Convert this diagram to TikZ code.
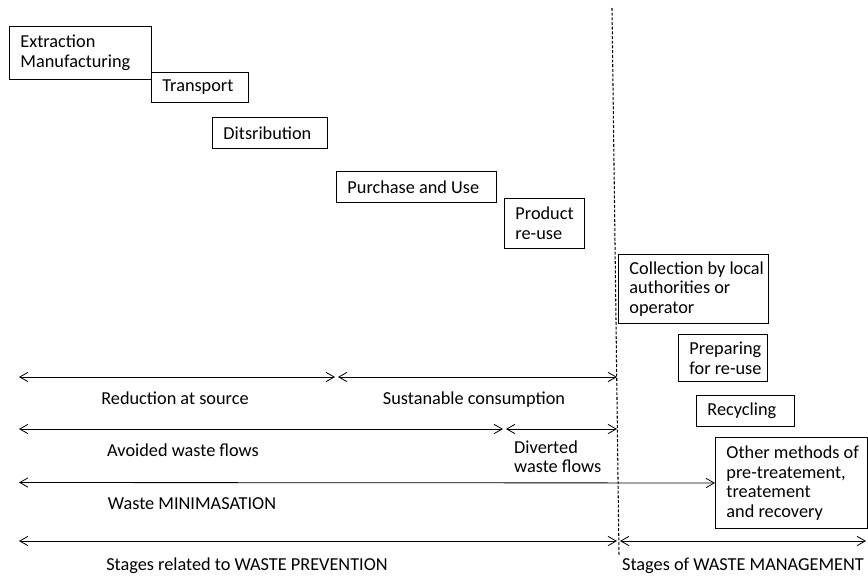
\documentclass[tikz,border=0pt]{standalone}
\usepackage{fontspec}
\setmainfont{Carlito}
\usetikzlibrary{arrows.meta}
\newcommand\oneline[1]{\mbox{\spaceskip=0pt\xspaceskip=0pt #1}}
\begin{document}
\begin{tikzpicture}[x=0.03cm, y=-0.03cm,
    >={Straight Barb[length=7pt,width=8pt]},
    stage/.style={draw, line width=0.8pt, anchor=north west, align=left,
        inner xsep=0.33cm, inner ysep=0pt, font=\fontsize{15.6}{16.8}\selectfont},
    span/.style={<->, line width=0.7pt},
    lbl/.style={anchor=base, inner sep=0pt, font=\fontsize{15.6}{16.8}\selectfont}]
    \useasboundingbox (0,0) rectangle (868,575);

    % life cycle stages
    \node[stage, minimum width=4.26cm, minimum height=1.59cm, text width=3.6cm] (extract) at (9,26) {Extraction\\Manufacturing};
    \node[stage, minimum width=2.91cm, minimum height=0.9cm, text width=2.25cm] (transport) at (151,72) {Transport};
    \node[stage, minimum width=3.45cm, minimum height=0.93cm, text width=2.79cm] (distrib) at (212,117) {Ditsribution};
    \node[stage, minimum width=4.8cm, minimum height=0.93cm, text width=4.14cm] (purchase) at (336,171) {\oneline{Purchase and Use}};
    \node[stage, minimum width=2.4cm, minimum height=1.5cm, text width=1.74cm] (reuse) at (504,198) {Product\\re-use};
    \node[stage, minimum width=4.5cm, minimum height=2.07cm, text width=3.84cm] (collect) at (618,254)
        {\oneline{Collection by local}\\\oneline{authorities or}\\operator};
    \node[stage, minimum width=2.67cm, minimum height=1.41cm, text width=2.01cm] (prepare) at (678,334)
        {Preparing\\\oneline{for re-use}};
    \node[stage, minimum width=2.94cm, minimum height=0.93cm, text width=2.28cm] (recycle) at (696,395) {Recycling};
    \node[stage, minimum width=4.56cm, minimum height=2.73cm, text width=3.9cm] (other) at (715,437)
        {\oneline{Other methods of}\\\oneline{pre-treatement,}\\treatement\\\oneline{and recovery}};

    % prevention / management border
    \coordinate (top) at (612,8);
    \coordinate (bottom) at (619,556);
    \draw[dash pattern=on 2.5pt off 1.5pt, line width=0.9pt] (top) -- (bottom);

    % arrow ends
    \coordinate (l1) at (19,377);  \coordinate (m1) at (335,377);
    \coordinate (n1) at (338,377); \coordinate (d1) at (617,377);
    \coordinate (l2) at (19,429);  \coordinate (m2) at (503,429);
    \coordinate (n2) at (506,429); \coordinate (d2) at (617,429);
    \coordinate (l3) at (19,482.5);
    \coordinate (l4) at (19,541);  \coordinate (d4) at (617,541);
    \coordinate (n4) at (620,541); \coordinate (r4) at (866,541);

    \draw[span] (l1) -- (m1);
    \draw[span] (n1) -- (d1);
    \draw[span] (l2) -- (m2);
    \draw[span] (n2) -- (d2);
    \draw[span] (l3) -- (other.west);
    \draw[span] (l4) -- (d4);
    \draw[span] (n4) -- (r4);

    % labels
    \node[lbl] (source) at (175,404) {Reduction at source};
    \node[lbl] (sustain) at (474,404) {Sustanable consumption};
    \node[lbl] (avoided) at (183,456) {Avoided waste flows};
    \node[lbl, anchor=base west] (diverted) at (514,453) {Diverted};
    \node[lbl, anchor=base west] (divflows) at (514,472) {waste flows};
    \node[lbl] (minim) at (192,509) {Waste MINIMASATION};
    \node[lbl] (prevent) at (247,570) {Stages related to WASTE PREVENTION};
    \node[lbl] (manage) at (743,570) {Stages of WASTE MANAGEMENT};

\end{tikzpicture}
\end{document}
